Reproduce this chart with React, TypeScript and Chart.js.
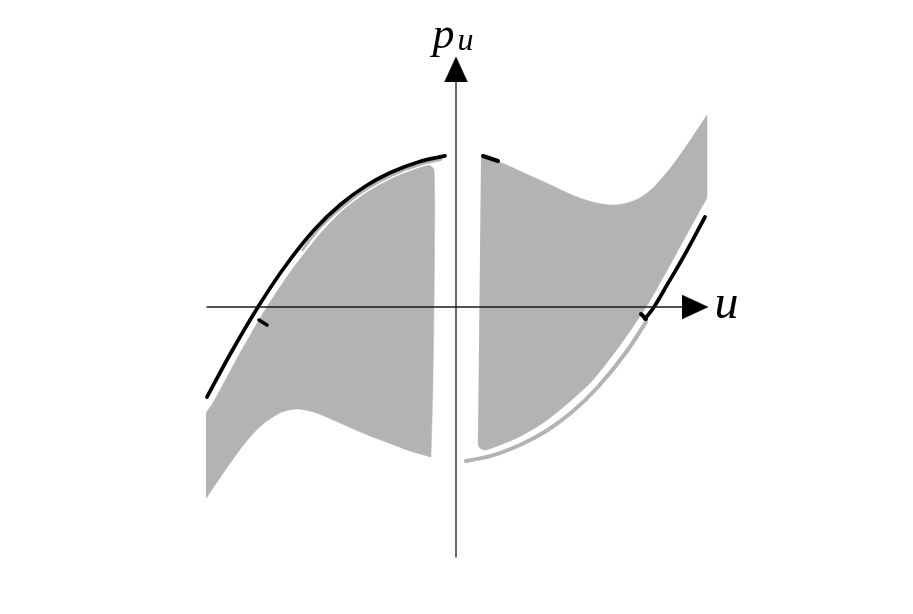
import React, { useEffect, useRef } from "react";
import { Chart, registerables } from "chart.js";

Chart.register(...registerables);

// ---- data (u, p_u) ----
const LEFT_BODY: [number, number][] = [
  [-2.5, -1.06], [-2.42, -0.94], [-2.19, -0.514], [-1.916, -0.04], [-1.65, 0.36],
  [-1.358, 0.733], [-1.121, 0.974], [-0.877, 1.155], [-0.634, 1.288], [-0.343, 1.399],
  [-0.26, 1.415], [-0.22, 1.37], [-0.215, 0.57], [-0.23, -0.73],
  [-0.25, -1.5], [-0.25, -1.5],
  [-0.46, -1.44], [-0.66, -1.365], [-0.86, -1.29], [-0.99, -1.235], [-1.16, -1.16],
  [-1.33, -1.085], [-1.46, -1.04], [-1.59, -1.02], [-1.71, -1.04], [-1.79, -1.075],
  [-1.91, -1.155], [-1.99, -1.225], [-2.08, -1.325], [-2.16, -1.425], [-2.33, -1.665],
  [-2.5, -1.915],
];

const RIGHT_BODY: [number, number][] = [
  [0.25, 1.5], [0.46, 1.44], [0.66, 1.35], [0.86, 1.26], [0.99, 1.2],
  [1.16, 1.12], [1.33, 1.06], [1.46, 1.03], [1.59, 1.02], [1.71, 1.04],
  [1.82, 1.08], [1.91, 1.14], [1.99, 1.21], [2.16, 1.41], [2.33, 1.65],
  [2.51, 1.92], [2.51, 1.92], [2.51, 1.09], [2.51, 1.09],
  [2.42, 0.93], [2.19, 0.51], [1.92, 0.03], [1.65, -0.37], [1.36, -0.74],
  [1.11, -0.97], [0.87, -1.16], [0.63, -1.3], [0.44, -1.38], [0.29, -1.43],
  [0.23, -1.4], [0.22, -1.31],
];

const LEFT_BLACK: [number, number][] = [
  [-2.49, -0.9], [-2.26, -0.475], [-1.98, 0.0], [-1.71, 0.405], [-1.41, 0.78],
  [-1.16, 1.02], [-0.91, 1.205], [-0.66, 1.342], [-0.36, 1.456], [-0.11, 1.511],
];

const LEFT_STRIP: [number, number][] = [
  [-1.535, 0.57], [-1.388, 0.76], [-1.14, 0.997], [-0.894, 1.18], [-0.647, 1.315],
  [-0.35, 1.427], [-0.15, 1.475],
];

const RIGHT_STRIP: [number, number][] = [
  [0.1, -1.54], [0.36, -1.486], [0.66, -1.37], [0.91, -1.235], [1.16, -1.05],
  [1.41, -0.81], [1.71, -0.44], [1.9, -0.15],
];

const RIGHT_BLACK: [number, number][] = [
  [1.89, -0.12], [1.98, 0.0], [2.12, 0.237], [2.26, 0.475], [2.49, 0.9],
];

const LEFT_TICK: [number, number][] = [[-1.97, -0.13], [-1.89, -0.18]];
const RIGHT_TOP_DASH: [number, number][] = [[0.27, 1.51], [0.42, 1.46]];
const RIGHT_HOOK: [number, number][] = [[1.85, -0.07], [1.9, -0.12]];

const X_AXIS: [number, number][] = [[-2.49, 0], [2.28, 0]];
const Y_AXIS: [number, number][] = [[0, -2.5], [0, 2.27]];
const X_ARROW: [number, number][] = [[2.26, 0.12], [2.52, 0], [2.26, -0.12]];
const Y_ARROW: [number, number][] = [[-0.115, 2.25], [0, 2.5], [0.115, 2.25]];

const AXIS_TEXT = ["u", "p", "u"];
const AXIS_TEXT_AT: [number, number][] = [[2.585, -0.11], [-0.235, 2.59], [0.015, 2.57]];
const AXIS_TEXT_SIZE = [48, 44, 32];

const GREY = "#b3b3b3";

const pts = (a: [number, number][]) => a.map(([x, y]) => ({ x, y }));

function shape(data: [number, number][], color: string, order: number, tension = 0.25) {
  return {
    data: pts(data),
    showLine: true,
    fill: "shape",
    backgroundColor: color,
    borderColor: color,
    borderWidth: 0.5,
    pointRadius: 0,
    tension,
    order,
  };
}

function line(data: [number, number][], color: string, width: number, order: number, smooth = true) {
  return {
    data: pts(data),
    showLine: true,
    fill: false,
    borderColor: color,
    backgroundColor: color,
    borderWidth: width,
    borderCapStyle: "round",
    pointRadius: 0,
    tension: smooth ? 0.4 : 0,
    cubicInterpolationMode: smooth ? "monotone" : "default",
    order,
  };
}

const labelPlugin = {
  id: "axisLabels",
  afterDatasetsDraw(chart: any) {
    const { ctx, scales } = chart;
    ctx.save();
    ctx.fillStyle = "#000";
    ctx.textAlign = "left";
    ctx.textBaseline = "alphabetic";
    AXIS_TEXT.forEach((t, i) => {
      ctx.font = `italic ${AXIS_TEXT_SIZE[i]}px "Liberation Serif", "DejaVu Serif", serif`;
      ctx.fillText(t, scales.x.getPixelForValue(AXIS_TEXT_AT[i][0]), scales.y.getPixelForValue(AXIS_TEXT_AT[i][1]));
    });
    ctx.restore();
  },
};

export default function App() {
  const ref = useRef<HTMLCanvasElement | null>(null);
  useEffect(() => {
    if (!ref.current) return;
    const chart = new Chart(ref.current, {
      type: "scatter",
      data: {
        datasets: [
          shape(LEFT_BODY, GREY, 10),
          shape(RIGHT_BODY, GREY, 10),
          line(RIGHT_STRIP, GREY, 4, 8),
          line(LEFT_STRIP, GREY, 2.5, 8),
          line(LEFT_BLACK, "#000", 3.7, 5),
          line(RIGHT_BLACK, "#000", 3.7, 5),
          line(LEFT_TICK, "#000", 3.5, 5, false),
          line(RIGHT_TOP_DASH, "#000", 4, 5, false),
          line(RIGHT_HOOK, "#000", 4, 5, false),
          line(X_AXIS, "#1a1a1a", 1.3, 3, false),
          line(Y_AXIS, "#1a1a1a", 1.3, 3, false),
          shape(X_ARROW, "#000", 2, 0),
          shape(Y_ARROW, "#000", 2, 0),
        ] as any,
      },
      options: {
        animation: false,
        responsive: false,
        layout: { padding: 0 },
        events: [],
        scales: {
          x: { type: "linear", min: -4.56, max: 4.57, display: false },
          y: { type: "linear", min: -3.07, max: 3.07, display: false },
        },
        plugins: {
          legend: { display: false },
          tooltip: { enabled: false },
        },
      } as any,
      plugins: [labelPlugin],
    });
    return () => chart.destroy();
  }, []);

  return (
    <div style={{ position: "fixed", left: 0, top: 0, width: 913, height: 614, background: "#fff" }}>
      <canvas ref={ref} width={913} height={614} style={{ display: "block" }} />
    </div>
  );
}
